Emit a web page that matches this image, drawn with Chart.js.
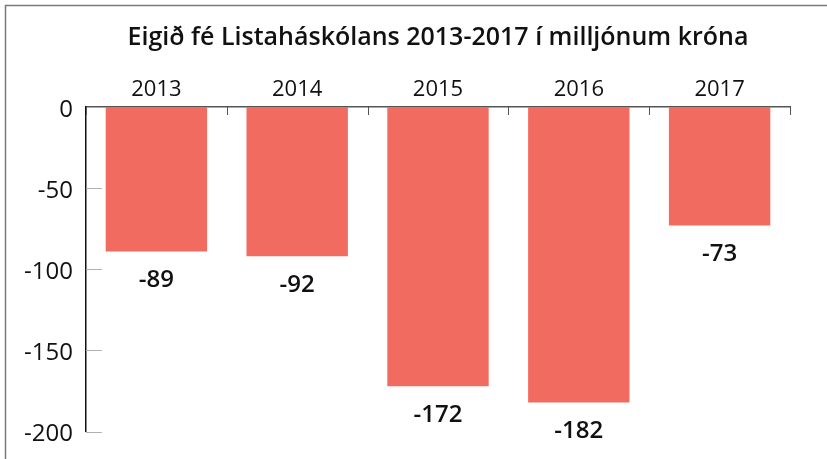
<!DOCTYPE html>
<html>
<head>
<meta charset="utf-8">
<script src="https://cdn.jsdelivr.net/npm/chart.js@4.4.0/dist/chart.umd.min.js"></script>
<style>
    html, body { margin: 0; padding: 0; background: #fff; }
    #wrap { width: 827px; height: 459px; position: relative; }
</style>
</head>
<body>
<div id="wrap"><canvas id="equityChart" width="827" height="459"></canvas></div>
<script>
// Eigið fé Listaháskólans, milljónir króna
const years = ['2013', '2014', '2015', '2016', '2017'];
const equity = [-89, -92, -172, -182, -73];
const yTicks = [0, -50, -100, -150, -200];

const barColor = '#f26b61';
const fontFamily = '"Open Sans", "Noto Sans", sans-serif';

// grey frame on top and left edge
const framePlugin = {
    id: 'frame',
    beforeDraw(chart) {
        const ctx = chart.ctx;
        ctx.save();
        ctx.strokeStyle = '#7a7a7a';
        ctx.lineWidth = 1.5;
        ctx.beginPath();
        ctx.moveTo(5.5, chart.height);
        ctx.lineTo(5.5, 5.5);
        ctx.lineTo(chart.width, 5.5);
        ctx.stroke();
        ctx.restore();
    }
};

// short tick marks: down from the top axis at category edges, right from the y axis
const tickMarks = {
    id: 'tickMarks',
    afterDraw(chart) {
        const ctx = chart.ctx;
        const x = chart.scales.x;
        const y = chart.scales.y;
        const area = chart.chartArea;
        ctx.save();
        ctx.lineWidth = 1;
        ctx.strokeStyle = '#555';
        const step = (area.right - area.left) / years.length;
        for (let i = 0; i <= years.length; i++) {
            const px = Math.round(x.getPixelForValue(i) - step / 2) + 0.5;
            ctx.beginPath();
            ctx.moveTo(px, area.top);
            ctx.lineTo(px, area.top + 8);
            ctx.stroke();
        }
        ctx.strokeStyle = '#b0b0b0';
        yTicks.forEach(v => {
            if (v === 0) return;
            const py = Math.round(y.getPixelForValue(v)) + 0.5;
            ctx.beginPath();
            ctx.moveTo(area.left, py);
            ctx.lineTo(area.left + 16, py);
            ctx.stroke();
        });
        ctx.restore();
    }
};

// value labels under each bar
const valueLabels = {
    id: 'valueLabels',
    afterDatasetsDraw(chart) {
        const ctx = chart.ctx;
        const meta = chart.getDatasetMeta(0);
        ctx.save();
        ctx.fillStyle = '#111';
        ctx.font = '600 24px ' + fontFamily;
        ctx.textAlign = 'center';
        ctx.textBaseline = 'middle';
        meta.data.forEach((bar, i) => {
            ctx.fillText(String(equity[i]), bar.x, bar.y + 29);
        });
        ctx.restore();
    }
};

new Chart(document.getElementById('equityChart'), {
    type: 'bar',
    data: {
        labels: years,
        datasets: [{
            data: equity,
            backgroundColor: barColor,
            borderWidth: 0,
            categoryPercentage: 0.72,
            barPercentage: 1.0
        }]
    },
    options: {
        responsive: false,
        animation: false,
        events: [],
        layout: {
            padding: { top: 10, left: 6, right: 37, bottom: 26 }
        },
        plugins: {
            legend: { display: false },
            tooltip: { enabled: false },
            title: {
                display: true,
                fullSize: false,
                text: 'Eigið fé Listaháskólans 2013-2017 í milljónum króna',
                color: '#111',
                font: { family: fontFamily, size: 25, weight: '600', lineHeight: 1.2 },
                padding: { top: 13, bottom: 8 }
            }
        },
        scales: {
            x: {
                position: 'top',
                grid: { display: false, drawTicks: false },
                border: { display: true, color: '#555', width: 1.5 },
                ticks: {
                    color: '#111',
                    font: { family: fontFamily, size: 22 },
                    padding: 4
                },
                afterFit(scale) { scale.height = 46; }
            },
            y: {
                min: -200,
                max: 0,
                grid: { display: false, drawTicks: false },
                border: { display: true, color: '#111', width: 1.5 },
                ticks: {
                    stepSize: 50,
                    color: '#111',
                    font: { family: fontFamily, size: 24 },
                    padding: 13,
                    labelOffset: 3
                },
                afterFit(scale) { scale.width = 80; }
            }
        }
    },
    plugins: [framePlugin, tickMarks, valueLabels]
});
</script>
</body>
</html>
